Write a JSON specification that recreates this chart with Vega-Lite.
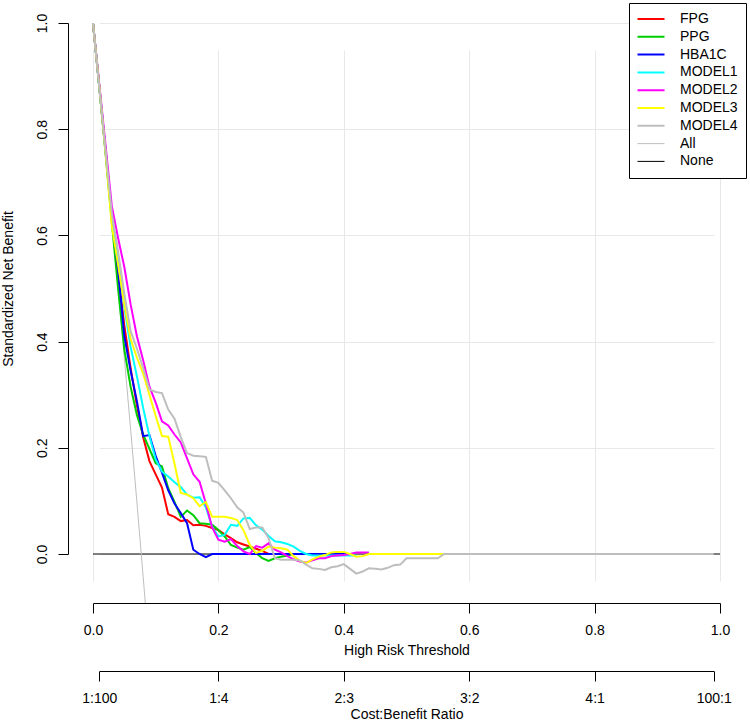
{
  "$schema": "https://vega.github.io/schema/vega-lite/v6.json",
  "width": 677,
  "height": 602,
  "autosize": "none",
  "padding": {"left": 68, "top": 1, "right": 5, "bottom": 123},
  "background": "white",
  "config": {
    "font": "Liberation Sans",
    "view": {"stroke": null},
    "axis": {
      "labelFont": "Liberation Sans", "titleFont": "Liberation Sans",
      "labelFontSize": 14, "titleFontSize": 14, "titleFontWeight": "normal",
      "labelColor": "black", "titleColor": "black",
      "domainColor": "black", "tickColor": "black", "gridColor": "#e8e8e8",
      "tickSize": 10, "domainWidth": 1, "tickWidth": 1, "labelFlush": false, "labelOverlap": false
    },
    "legend": {"labelFont": "Liberation Sans"}
  },
  "datasets": {
    "none": [
      {"s": "None", "t": 0, "nb": 0},
      {"s": "None", "t": 1, "nb": 0}
    ],
    "all": [
      {"s":"All","t":0,"nb":1},{"s":"All","t":0.01,"nb":0.879},{"s":"All","t":0.02,"nb":0.755},{"s":"All","t":0.03,"nb":0.629},{"s":"All","t":0.04,"nb":0.5},{"s":"All","t":0.05,"nb":0.369},{"s":"All","t":0.06,"nb":0.235},{"s":"All","t":0.07,"nb":0.098},{"s":"All","t":0.08,"nb":-0.043},{"s":"All","t":0.09,"nb":-0.186},{"s":"All","t":0.1,"nb":-0.332}
    ],
    "curves": [
      {"s":"FPG","t":0,"nb":1},{"s":"FPG","t":0.01,"nb":0.88},{"s":"FPG","t":0.02,"nb":0.76},{"s":"FPG","t":0.03,"nb":0.635},{"s":"FPG","t":0.04,"nb":0.53},{"s":"FPG","t":0.05,"nb":0.43},{"s":"FPG","t":0.06,"nb":0.35},{"s":"FPG","t":0.07,"nb":0.28},{"s":"FPG","t":0.08,"nb":0.22},{"s":"FPG","t":0.09,"nb":0.175},{"s":"FPG","t":0.1,"nb":0.15},{"s":"FPG","t":0.11,"nb":0.125},{"s":"FPG","t":0.12,"nb":0.075},{"s":"FPG","t":0.13,"nb":0.07},{"s":"FPG","t":0.14,"nb":0.062},{"s":"FPG","t":0.15,"nb":0.064},{"s":"FPG","t":0.16,"nb":0.054},{"s":"FPG","t":0.17,"nb":0.055},{"s":"FPG","t":0.18,"nb":0.053},{"s":"FPG","t":0.19,"nb":0.049},{"s":"FPG","t":0.2,"nb":0.045},{"s":"FPG","t":0.21,"nb":0.037},{"s":"FPG","t":0.22,"nb":0.03},{"s":"FPG","t":0.23,"nb":0.022},{"s":"FPG","t":0.24,"nb":0.018},{"s":"FPG","t":0.25,"nb":0.014},{"s":"FPG","t":0.26,"nb":0.01},{"s":"FPG","t":0.27,"nb":0.006},{"s":"FPG","t":0.28,"nb":0},{"s":"FPG","t":0.4,"nb":0},

      {"s":"PPG","t":0,"nb":1},{"s":"PPG","t":0.01,"nb":0.88},{"s":"PPG","t":0.02,"nb":0.755},{"s":"PPG","t":0.03,"nb":0.625},{"s":"PPG","t":0.04,"nb":0.5},{"s":"PPG","t":0.05,"nb":0.385},{"s":"PPG","t":0.06,"nb":0.315},{"s":"PPG","t":0.07,"nb":0.262},{"s":"PPG","t":0.08,"nb":0.225},{"s":"PPG","t":0.09,"nb":0.198},{"s":"PPG","t":0.1,"nb":0.171},{"s":"PPG","t":0.11,"nb":0.165},{"s":"PPG","t":0.12,"nb":0.124},{"s":"PPG","t":0.13,"nb":0.098},{"s":"PPG","t":0.14,"nb":0.07},{"s":"PPG","t":0.15,"nb":0.082},{"s":"PPG","t":0.16,"nb":0.073},{"s":"PPG","t":0.17,"nb":0.058},{"s":"PPG","t":0.18,"nb":0.057},{"s":"PPG","t":0.19,"nb":0.055},{"s":"PPG","t":0.2,"nb":0.045},{"s":"PPG","t":0.21,"nb":0.033},{"s":"PPG","t":0.22,"nb":0.017},{"s":"PPG","t":0.23,"nb":0.012},{"s":"PPG","t":0.24,"nb":0.008},{"s":"PPG","t":0.25,"nb":0.013},{"s":"PPG","t":0.26,"nb":0.002},{"s":"PPG","t":0.27,"nb":-0.008},{"s":"PPG","t":0.28,"nb":-0.013},{"s":"PPG","t":0.29,"nb":-0.008},{"s":"PPG","t":0.3,"nb":-0.005},{"s":"PPG","t":0.31,"nb":-0.003},{"s":"PPG","t":0.32,"nb":0},{"s":"PPG","t":0.38,"nb":0},

      {"s":"HBA1C","t":0,"nb":1},{"s":"HBA1C","t":0.01,"nb":0.88},{"s":"HBA1C","t":0.02,"nb":0.76},{"s":"HBA1C","t":0.03,"nb":0.638},{"s":"HBA1C","t":0.04,"nb":0.535},{"s":"HBA1C","t":0.05,"nb":0.41},{"s":"HBA1C","t":0.06,"nb":0.345},{"s":"HBA1C","t":0.07,"nb":0.288},{"s":"HBA1C","t":0.08,"nb":0.222},{"s":"HBA1C","t":0.09,"nb":0.224},{"s":"HBA1C","t":0.1,"nb":0.185},{"s":"HBA1C","t":0.11,"nb":0.153},{"s":"HBA1C","t":0.12,"nb":0.12},{"s":"HBA1C","t":0.13,"nb":0.095},{"s":"HBA1C","t":0.14,"nb":0.077},{"s":"HBA1C","t":0.15,"nb":0.058},{"s":"HBA1C","t":0.16,"nb":0.008},{"s":"HBA1C","t":0.17,"nb":0},{"s":"HBA1C","t":0.18,"nb":-0.006},{"s":"HBA1C","t":0.19,"nb":0},{"s":"HBA1C","t":0.41,"nb":0},

      {"s":"MODEL1","t":0,"nb":1},{"s":"MODEL1","t":0.01,"nb":0.88},{"s":"MODEL1","t":0.02,"nb":0.76},{"s":"MODEL1","t":0.03,"nb":0.64},{"s":"MODEL1","t":0.04,"nb":0.555},{"s":"MODEL1","t":0.05,"nb":0.465},{"s":"MODEL1","t":0.06,"nb":0.39},{"s":"MODEL1","t":0.07,"nb":0.335},{"s":"MODEL1","t":0.08,"nb":0.275},{"s":"MODEL1","t":0.09,"nb":0.222},{"s":"MODEL1","t":0.1,"nb":0.178},{"s":"MODEL1","t":0.11,"nb":0.155},{"s":"MODEL1","t":0.12,"nb":0.146},{"s":"MODEL1","t":0.13,"nb":0.135},{"s":"MODEL1","t":0.14,"nb":0.126},{"s":"MODEL1","t":0.15,"nb":0.112},{"s":"MODEL1","t":0.16,"nb":0.106},{"s":"MODEL1","t":0.17,"nb":0.107},{"s":"MODEL1","t":0.18,"nb":0.088},{"s":"MODEL1","t":0.19,"nb":0.051},{"s":"MODEL1","t":0.2,"nb":0.033},{"s":"MODEL1","t":0.21,"nb":0.036},{"s":"MODEL1","t":0.22,"nb":0.055},{"s":"MODEL1","t":0.23,"nb":0.053},{"s":"MODEL1","t":0.24,"nb":0.067},{"s":"MODEL1","t":0.25,"nb":0.068},{"s":"MODEL1","t":0.26,"nb":0.054},{"s":"MODEL1","t":0.27,"nb":0.046},{"s":"MODEL1","t":0.28,"nb":0.034},{"s":"MODEL1","t":0.29,"nb":0.024},{"s":"MODEL1","t":0.3,"nb":0.022},{"s":"MODEL1","t":0.31,"nb":0.019},{"s":"MODEL1","t":0.32,"nb":0.014},{"s":"MODEL1","t":0.33,"nb":0.006},{"s":"MODEL1","t":0.34,"nb":0},{"s":"MODEL1","t":0.35,"nb":-0.003},{"s":"MODEL1","t":0.42,"nb":-0.003},

      {"s":"MODEL2","t":0,"nb":1},{"s":"MODEL2","t":0.01,"nb":0.885},{"s":"MODEL2","t":0.02,"nb":0.77},{"s":"MODEL2","t":0.03,"nb":0.655},{"s":"MODEL2","t":0.04,"nb":0.595},{"s":"MODEL2","t":0.05,"nb":0.54},{"s":"MODEL2","t":0.06,"nb":0.47},{"s":"MODEL2","t":0.07,"nb":0.41},{"s":"MODEL2","t":0.08,"nb":0.365},{"s":"MODEL2","t":0.09,"nb":0.315},{"s":"MODEL2","t":0.1,"nb":0.285},{"s":"MODEL2","t":0.11,"nb":0.25},{"s":"MODEL2","t":0.12,"nb":0.242},{"s":"MODEL2","t":0.13,"nb":0.225},{"s":"MODEL2","t":0.14,"nb":0.21},{"s":"MODEL2","t":0.15,"nb":0.18},{"s":"MODEL2","t":0.16,"nb":0.15},{"s":"MODEL2","t":0.17,"nb":0.136},{"s":"MODEL2","t":0.18,"nb":0.095},{"s":"MODEL2","t":0.19,"nb":0.05},{"s":"MODEL2","t":0.2,"nb":0.027},{"s":"MODEL2","t":0.21,"nb":0.023},{"s":"MODEL2","t":0.22,"nb":0.028},{"s":"MODEL2","t":0.23,"nb":0.015},{"s":"MODEL2","t":0.24,"nb":0.005},{"s":"MODEL2","t":0.25,"nb":0},{"s":"MODEL2","t":0.26,"nb":0.015},{"s":"MODEL2","t":0.27,"nb":0.012},{"s":"MODEL2","t":0.28,"nb":0.02},{"s":"MODEL2","t":0.29,"nb":0.008},{"s":"MODEL2","t":0.3,"nb":0.003},{"s":"MODEL2","t":0.31,"nb":-0.004},{"s":"MODEL2","t":0.32,"nb":-0.01},{"s":"MODEL2","t":0.33,"nb":-0.014},{"s":"MODEL2","t":0.34,"nb":-0.016},{"s":"MODEL2","t":0.35,"nb":-0.012},{"s":"MODEL2","t":0.36,"nb":-0.008},{"s":"MODEL2","t":0.37,"nb":-0.008},{"s":"MODEL2","t":0.38,"nb":-0.004},{"s":"MODEL2","t":0.39,"nb":-0.003},{"s":"MODEL2","t":0.4,"nb":-0.002},{"s":"MODEL2","t":0.41,"nb":0},{"s":"MODEL2","t":0.42,"nb":0.003},{"s":"MODEL2","t":0.43,"nb":0.003},{"s":"MODEL2","t":0.44,"nb":0.003},

      {"s":"MODEL3","t":0,"nb":1},{"s":"MODEL3","t":0.01,"nb":0.88},{"s":"MODEL3","t":0.02,"nb":0.755},{"s":"MODEL3","t":0.03,"nb":0.618},{"s":"MODEL3","t":0.04,"nb":0.545},{"s":"MODEL3","t":0.05,"nb":0.47},{"s":"MODEL3","t":0.06,"nb":0.405},{"s":"MODEL3","t":0.07,"nb":0.37},{"s":"MODEL3","t":0.08,"nb":0.34},{"s":"MODEL3","t":0.09,"nb":0.3},{"s":"MODEL3","t":0.1,"nb":0.26},{"s":"MODEL3","t":0.11,"nb":0.222},{"s":"MODEL3","t":0.12,"nb":0.221},{"s":"MODEL3","t":0.13,"nb":0.17},{"s":"MODEL3","t":0.14,"nb":0.115},{"s":"MODEL3","t":0.15,"nb":0.112},{"s":"MODEL3","t":0.16,"nb":0.105},{"s":"MODEL3","t":0.17,"nb":0.09},{"s":"MODEL3","t":0.18,"nb":0.098},{"s":"MODEL3","t":0.19,"nb":0.07},{"s":"MODEL3","t":0.2,"nb":0.07},{"s":"MODEL3","t":0.21,"nb":0.07},{"s":"MODEL3","t":0.22,"nb":0.068},{"s":"MODEL3","t":0.23,"nb":0.064},{"s":"MODEL3","t":0.24,"nb":0.045},{"s":"MODEL3","t":0.25,"nb":0.017},{"s":"MODEL3","t":0.26,"nb":0.002},{"s":"MODEL3","t":0.27,"nb":0.006},{"s":"MODEL3","t":0.28,"nb":0.014},{"s":"MODEL3","t":0.29,"nb":0.012},{"s":"MODEL3","t":0.3,"nb":0.011},{"s":"MODEL3","t":0.31,"nb":0.008},{"s":"MODEL3","t":0.32,"nb":-0.004},{"s":"MODEL3","t":0.33,"nb":-0.013},{"s":"MODEL3","t":0.34,"nb":-0.017},{"s":"MODEL3","t":0.35,"nb":-0.01},{"s":"MODEL3","t":0.36,"nb":-0.005},{"s":"MODEL3","t":0.37,"nb":-0.002},{"s":"MODEL3","t":0.38,"nb":0.003},{"s":"MODEL3","t":0.39,"nb":0.004},{"s":"MODEL3","t":0.4,"nb":0.004},{"s":"MODEL3","t":0.41,"nb":0},{"s":"MODEL3","t":0.42,"nb":-0.005},{"s":"MODEL3","t":0.43,"nb":-0.004},{"s":"MODEL3","t":0.44,"nb":0},{"s":"MODEL3","t":0.56,"nb":0},

      {"s":"MODEL4","t":0,"nb":1},{"s":"MODEL4","t":0.01,"nb":0.88},{"s":"MODEL4","t":0.02,"nb":0.76},{"s":"MODEL4","t":0.03,"nb":0.642},{"s":"MODEL4","t":0.04,"nb":0.57},{"s":"MODEL4","t":0.05,"nb":0.49},{"s":"MODEL4","t":0.06,"nb":0.42},{"s":"MODEL4","t":0.07,"nb":0.387},{"s":"MODEL4","t":0.08,"nb":0.35},{"s":"MODEL4","t":0.09,"nb":0.31},{"s":"MODEL4","t":0.1,"nb":0.305},{"s":"MODEL4","t":0.11,"nb":0.303},{"s":"MODEL4","t":0.12,"nb":0.272},{"s":"MODEL4","t":0.13,"nb":0.255},{"s":"MODEL4","t":0.14,"nb":0.22},{"s":"MODEL4","t":0.15,"nb":0.19},{"s":"MODEL4","t":0.16,"nb":0.185},{"s":"MODEL4","t":0.17,"nb":0.184},{"s":"MODEL4","t":0.18,"nb":0.183},{"s":"MODEL4","t":0.19,"nb":0.138},{"s":"MODEL4","t":0.2,"nb":0.134},{"s":"MODEL4","t":0.21,"nb":0.12},{"s":"MODEL4","t":0.22,"nb":0.105},{"s":"MODEL4","t":0.23,"nb":0.088},{"s":"MODEL4","t":0.24,"nb":0.078},{"s":"MODEL4","t":0.25,"nb":0.047},{"s":"MODEL4","t":0.26,"nb":0.05},{"s":"MODEL4","t":0.27,"nb":0.05},{"s":"MODEL4","t":0.28,"nb":0.03},{"s":"MODEL4","t":0.29,"nb":-0.008},{"s":"MODEL4","t":0.3,"nb":-0.011},{"s":"MODEL4","t":0.31,"nb":-0.011},{"s":"MODEL4","t":0.32,"nb":-0.011},{"s":"MODEL4","t":0.33,"nb":-0.012},{"s":"MODEL4","t":0.34,"nb":-0.02},{"s":"MODEL4","t":0.35,"nb":-0.027},{"s":"MODEL4","t":0.36,"nb":-0.028},{"s":"MODEL4","t":0.37,"nb":-0.03},{"s":"MODEL4","t":0.38,"nb":-0.025},{"s":"MODEL4","t":0.39,"nb":-0.023},{"s":"MODEL4","t":0.4,"nb":-0.019},{"s":"MODEL4","t":0.41,"nb":-0.028},{"s":"MODEL4","t":0.42,"nb":-0.037},{"s":"MODEL4","t":0.43,"nb":-0.033},{"s":"MODEL4","t":0.44,"nb":-0.027},{"s":"MODEL4","t":0.45,"nb":-0.028},{"s":"MODEL4","t":0.46,"nb":-0.029},{"s":"MODEL4","t":0.47,"nb":-0.026},{"s":"MODEL4","t":0.48,"nb":-0.021},{"s":"MODEL4","t":0.49,"nb":-0.02},{"s":"MODEL4","t":0.5,"nb":-0.008},{"s":"MODEL4","t":0.55,"nb":-0.008},{"s":"MODEL4","t":0.56,"nb":0},{"s":"MODEL4","t":0.99,"nb":0}
    ]
  },
  "resolve": {"scale": {"x": "independent"}, "axis": {"x": "independent"}},
  "layer": [
    {
      "data": {"name": "none"},
      "mark": {"type": "line", "clip": true, "strokeWidth": 1},
      "encoding": {
        "x": {
          "field": "t", "type": "quantitative",
          "scale": {"domain": [0.01, 0.99], "range": [31.27, 645.73], "nice": false, "zero": false},
          "axis": {
            "orient": "bottom", "offset": 68, "grid": false,
            "values": [0.01, 0.2, 0.4, 0.6, 0.8, 0.99],
            "labelExpr": "datum.value < 0.1 ? '1:100' : datum.value < 0.3 ? '1:4' : datum.value < 0.5 ? '2:3' : datum.value < 0.7 ? '3:2' : datum.value < 0.9 ? '4:1' : '100:1'",
            "labelPadding": 10, "title": "Cost:Benefit Ratio", "titlePadding": 2
          }
        },
        "y": {
          "field": "nb", "type": "quantitative",
          "scale": {"domain": [0, 1], "range": [553, 22], "nice": false, "zero": false},
          "axis": {
            "values": [0, 0.2, 0.4, 0.6, 0.8, 1], "format": ".1f", "grid": true,
            "labelAngle": -90, "labelAlign": "center", "labelBaseline": "bottom",
            "labelPadding": 9, "title": "Standardized Net Benefit", "titlePadding": 20
          }
        },
        "color": {
          "field": "s", "type": "nominal",
          "scale": {
            "domain": ["FPG", "PPG", "HBA1C", "MODEL1", "MODEL2", "MODEL3", "MODEL4", "All", "None"],
            "range": ["#FF0000", "#00CD00", "#0000FF", "#00FFFF", "#FF00FF", "#FFFF00", "#BEBEBE", "#BEBEBE", "#000000"]
          },
          "legend": {
            "orient": "none", "legendX": 561, "legendY": 2, "title": null,
            "strokeColor": "black", "fillColor": "white", "padding": 8,
            "symbolType": "stroke", "symbolSize": 729, "symbolOffset": 7,
            "labelOffset": 22, "labelFontSize": 14, "labelColor": "black",
            "clipHeight": 16, "rowPadding": 1.8, "labelLimit": 300,
            "encode": {
              "symbols": {
                "update": {
                  "strokeWidth": {"signal": "datum.value === 'All' || datum.value === 'None' ? 1 : 2"}
                }
              }
            }
          }
        }
      }
    },
    {
      "layer": [
        {
          "data": {"name": "all"},
          "mark": {"type": "line", "clip": true, "strokeWidth": 1},
          "encoding": {
            "x": {
              "field": "t", "type": "quantitative",
              "scale": {"domain": [0, 1], "range": [25, 652], "nice": false, "zero": false},
              "axis": {
                "orient": "bottom", "offset": 0,
                "values": [0, 0.2, 0.4, 0.6, 0.8, 1], "format": ".1f", "grid": true,
                "labelPadding": 10, "title": "High Risk Threshold", "titlePadding": 6
              }
            },
            "y": {"field": "nb", "type": "quantitative"},
            "color": {"field": "s", "type": "nominal"}
          }
        },
        {
          "data": {"name": "curves"},
          "mark": {"type": "line", "clip": true, "strokeWidth": 2},
          "encoding": {
            "x": {"field": "t", "type": "quantitative"},
            "y": {"field": "nb", "type": "quantitative"},
            "color": {"field": "s", "type": "nominal"}
          }
        }
      ]
    }
  ]
}
